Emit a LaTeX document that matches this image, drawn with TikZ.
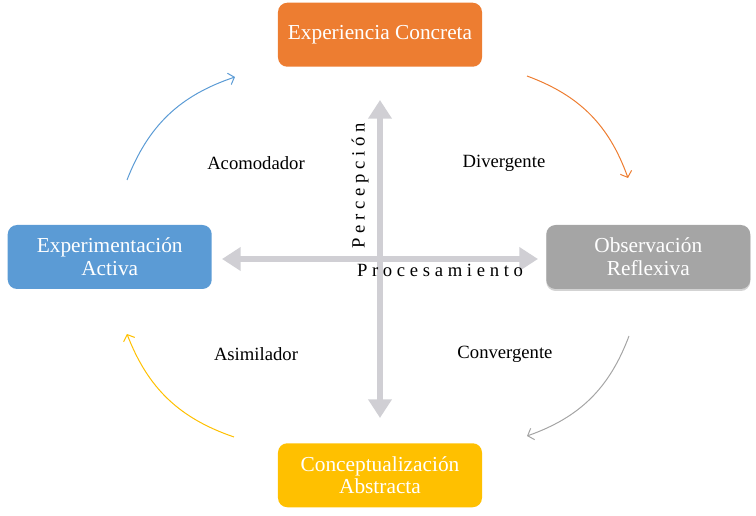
\documentclass[tikz,border=0pt]{standalone}
\usepackage{fontspec}
\setmainfont{Liberation Serif}
\usetikzlibrary{arrows.meta,positioning,shadows}

\definecolor{ecorange}{RGB}{237,125,49}
\definecolor{eablue}{RGB}{91,155,213}
\definecolor{orgray}{RGB}{165,165,165}
\definecolor{cayellow}{RGB}{255,192,0}
\definecolor{axisgray}{RGB}{208,207,212}

\begin{document}
\begin{tikzpicture}[
  x=0.75pt, y=0.75pt,
  % STYLES
  stage/.style={rectangle, rounded corners=7pt, minimum width=153pt,
    minimum height=48pt, inner sep=0pt, align=center, text=white,
    font=\fontsize{16}{17}\selectfont},
  lbl/.style={font=\fontsize{14}{16}\selectfont},
  axlbl/.style={font=\fontsize{14}{16}\selectfont\addfontfeature{LetterSpace=25}},
  % ARROWS
  axis/.style={draw=axisgray, line width=5pt,
    {Triangle[width=17pt,length=14pt]}-{Triangle[width=17pt,length=14pt]}},
  cyc/.style={line width=0.75pt, bend left=25,
    -{Straight Barb[length=4pt,width=9pt]}}]

  \useasboundingbox (-380,-259) rectangle (376,257);
  \coordinate (c) at (0,0);

  % axes
  \coordinate (ptop) at (0,157);
  \coordinate (pbot) at (0,-161);
  \coordinate (pleft) at (-158,-2);
  \coordinate (pright) at (158,-2);
  \draw[axis] (pleft) -- (pright);
  \draw[axis] (pbot) -- (ptop);

  \node[axlbl, rotate=90] at (-20,71) (perc) {Percepción};
  \node[axlbl] at (60,-13) (proc) {Procesamiento};

  % stages
  \node[stage, fill=ecorange] [above=142.5pt of c] (ec) {Experiencia Concreta};
  \node[stage, fill=eablue] [left=126pt of c] (ea) {Experimentación\\Activa};
  \node[stage, fill=orgray, drop shadow={shadow xshift=0pt, shadow yshift=-1.5pt,
    opacity=0.35}] [right=124.5pt of c] (or) {Observación\\Reflexiva};
  \node[stage, fill=cayellow] [below=139.5pt of c] (ca) {Conceptualización\\Abstracta};

  % styles of learning
  \node[lbl] at (-124,94) (acom) {Acomodador};
  \node[lbl] at (124,94) (dive) {Divergente};
  \node[lbl] at (-124,-97) (asim) {Asimilador};
  \node[lbl] at (125,-97) (conv) {Convergente};

  % cycle
  \coordinate (ac1) at (-253,77);
  \coordinate (ac2) at (-145,180);
  \coordinate (dv1) at (147,181);
  \coordinate (dv2) at (248,79);
  \coordinate (cv1) at (249,-79);
  \coordinate (cv2) at (147,-179);
  \coordinate (as1) at (-146,-180);
  \coordinate (as2) at (-253,-77);

  \path[cyc]
    (ac1) edge[draw=eablue] (ac2)
    (dv1) edge[draw=ecorange] (dv2)
    (cv1) edge[draw=orgray] (cv2)
    (as1) edge[draw=cayellow] (as2);
\end{tikzpicture}
\end{document}
